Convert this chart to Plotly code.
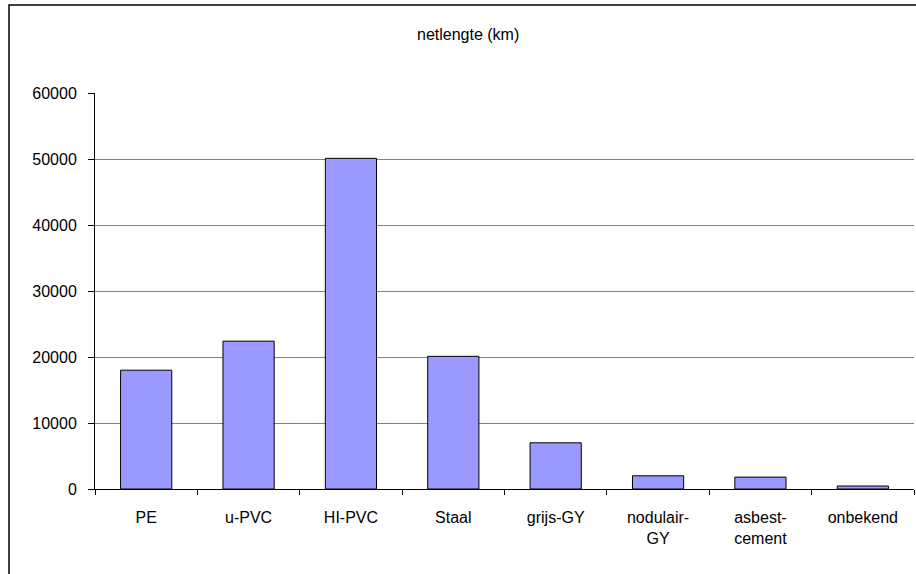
import plotly.graph_objects as go

categories = ["PE", "u-PVC", "HI-PVC", "Staal", "grijs-GY", "nodulair-<br>GY", "asbest-<br>cement", "onbekend"]
lengths_km = [18000, 22400, 50100, 20100, 7000, 2000, 1800, 450]
y_ticks = [0, 10000, 20000, 30000, 40000, 50000, 60000]

FONT = "Liberation Sans, Arial, sans-serif"

fig = go.Figure(
    go.Bar(
        x=categories,
        y=lengths_km,
        marker=dict(color="#9999FF", line=dict(color="#000000", width=1)),
        hoverinfo="x+y",
    )
)

# outer chart frame (runs past the right and bottom edges, as in the source)
fig.add_shape(
    type="rect", xref="paper", yref="paper",
    x0=-0.105, x1=1.2, y0=-0.4, y1=1.222,
    line=dict(color="#000000", width=1.5),
    fillcolor="rgba(0,0,0,0)", layer="below",
)

fig.add_annotation(
    text="netlengte (km)", xref="paper", yref="paper",
    x=0.455, y=1.147, yanchor="middle", showarrow=False,
    font=dict(family=FONT, size=16, color="#000000"),
)

fig.update_xaxes(
    showline=True, linecolor="#000000", linewidth=1,
    ticks="outside", tickson="boundaries", ticklen=5, tickcolor="#000000",
    tickfont=dict(family=FONT, size=16, color="#000000"),
    ticklabelstandoff=14,
    showgrid=False,
)
fig.update_yaxes(
    range=[0, 60000],
    tickvals=y_ticks,
    tickformat="d",
    showline=True, linecolor="#000000", linewidth=1,
    ticks="outside", ticklen=6, tickcolor="#000000",
    tickfont=dict(family=FONT, size=16, color="#000000"),
    ticklabelstandoff=8,
    showgrid=True, gridcolor="#808080", gridwidth=1,
    zeroline=False,
)

fig.update_layout(
    width=916,
    height=574,
    margin=dict(l=95, r=2, t=93, b=85),
    bargap=0.5,
    plot_bgcolor="white",
    paper_bgcolor="white",
    showlegend=False,
    font=dict(family=FONT, size=16, color="#000000"),
)

# drop the default 8px body margin so the figure fills the window exactly
fig.write_html(
    "out.html",
    config={"displayModeBar": False},
    post_script="document.body.style.margin = '0';",
)
